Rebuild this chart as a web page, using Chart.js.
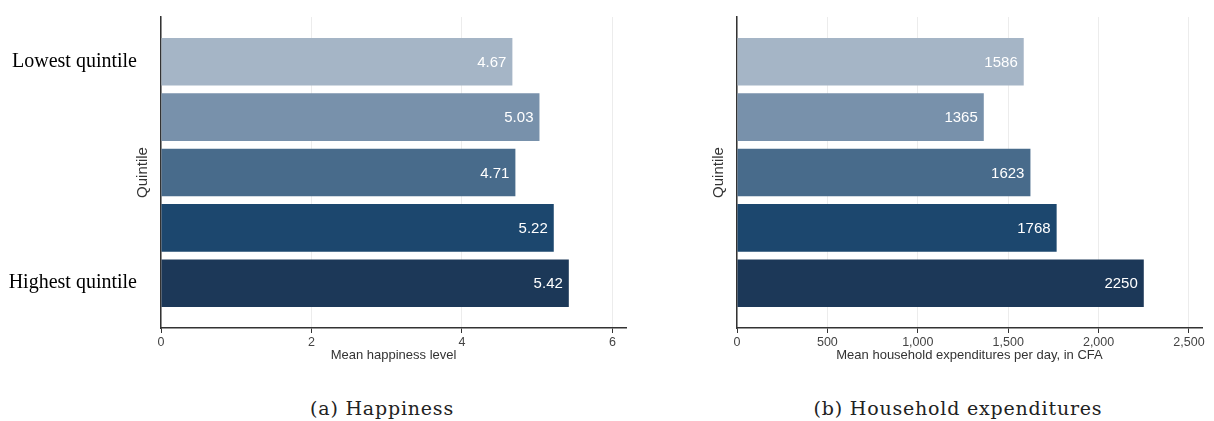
<!DOCTYPE html>
<html lang="en">
<head>
<meta charset="UTF-8">
<title>Quintiles: happiness and expenditures</title>
<script src="https://cdn.jsdelivr.net/npm/chart.js"></script>
<style>
  body { margin: 0; background: #fff; width: 1214px; height: 421px; overflow: hidden; position: relative; }
  canvas { position: absolute; top: 0; }
  #graficaFelicidad { left: 0; }
  #graficaGastos { left: 640px; }
  .leyenda {
    position: absolute; top: 397px;
    font-family: "DejaVu Serif", serif; font-size: 19px; line-height: 22px; letter-spacing: 0.8px;
    color: #222; white-space: nowrap; transform: translateX(-50%);
  }
</style>
</head>
<body>
<canvas id="graficaFelicidad" width="640" height="372"></canvas>
<canvas id="graficaGastos" width="574" height="372"></canvas>
<div class="leyenda" style="left:382px">(a) Happiness</div>
<div class="leyenda" style="left:958px">(b) Household expenditures</div>
<script>
//* datos de la figura
const quintiles = ["Lowest quintile", "", "", "", "Highest quintile"];
const felicidad = [4.67, 5.03, 4.71, 5.22, 5.42];
const gastos = [1586, 1365, 1623, 1768, 2250];
const ticksFelicidad = [0, 2, 4, 6];
const ticksGastos = [0, 500, 1000, 1500, 2000, 2500];
const coloresBarras = ["#a5b5c6", "#7891ab", "#486b8b", "#1c476e", "#1c3858"];

//* plugin para escribir el valor dentro de cada barra
const pluginValores = {
  id: "valores",
  afterDatasetsDraw(chart, args, opts) {
    const ctx = chart.ctx;
    const meta = chart.getDatasetMeta(0);
    ctx.save();
    ctx.fillStyle = "#ffffff";
    ctx.font = "15px 'Liberation Sans', Arial, sans-serif";
    ctx.textAlign = "right";
    ctx.textBaseline = "middle";
    meta.data.forEach((barra, i) => {
      ctx.fillText(opts.textos[i], barra.x - 6, barra.y + 1);
    });
    ctx.restore();
  },
};

//* plugin para el titulo vertical "Quintile"
const pluginQuintil = {
  id: "quintil",
  afterDraw(chart) {
    const ctx = chart.ctx;
    const area = chart.chartArea;
    ctx.save();
    ctx.translate(area.left - 18, (area.top + area.bottom) / 2);
    ctx.rotate(-Math.PI / 2);
    ctx.fillStyle = "#333";
    ctx.font = "15px 'Liberation Sans', Arial, sans-serif";
    ctx.textAlign = "center";
    ctx.textBaseline = "middle";
    ctx.fillText("Quintile", 0, 0);
    ctx.restore();
  },
};

//* Función para crear cada gráfica de barras horizontales
function crearGrafica(id, valores, textos, ticks, maximo, tituloX, anchoY, derecha, conEtiquetas) {
  const config = {
    type: "bar",
    data: {
      datasets: [
        {
          data: valores.map((v, i) => ({ x: v, y: i })),
          backgroundColor: coloresBarras,
          borderWidth: 0,
          barPercentage: 0.86,
          categoryPercentage: 1,
        },
      ],
    },
    options: {
      indexAxis: "y",
      responsive: false,
      animation: false,
      layout: { padding: { top: 17, right: derecha, left: 0, bottom: 0 } },
      plugins: {
        legend: { display: false },
        tooltip: { enabled: false },
        valores: { textos: textos },
      },
      scales: {
        x: {
          type: "linear",
          min: 0,
          max: maximo,
          afterBuildTicks: (eje) => {
            eje.ticks = ticks.map((v) => ({ value: v }));
          },
          afterFit: (eje) => {
            eje.height = 44;
            eje.paddingLeft = 0;
            eje.paddingRight = 0;
          },
          grid: { color: "#ececec", tickColor: "#333", tickLength: 5, lineWidth: 1 },
          border: { color: "#333", width: 1.5 },
          ticks: {
            color: "#444",
            font: { family: "'Liberation Sans', Arial", size: 12.5 },
            padding: 2,
            maxRotation: 0,
          },
          title: {
            display: true,
            text: tituloX,
            color: "#333",
            font: { family: "'Liberation Sans', Arial", size: 13 },
            padding: { top: 0, bottom: 9 },
          },
        },
        y: {
          type: "linear",
          reverse: true,
          offset: false,
          min: -0.81,
          max: 4.81,
          afterBuildTicks: (eje) => {
            eje.ticks = quintiles.map((q, i) => ({ value: i }));
          },
          afterFit: (eje) => {
            eje.width = anchoY;
            eje.paddingTop = 0;
            eje.paddingBottom = 0;
          },
          grid: { display: false, drawTicks: false },
          border: { color: "#333", width: 1.5 },
          ticks: {
            display: conEtiquetas,
            callback: (v) => quintiles[v],
            color: "#000",
            font: { family: "'Liberation Serif', 'Times New Roman', serif", size: 20 },
            padding: 24,
          },
        },
      },
    },
    plugins: [pluginValores, pluginQuintil],
  };
  return new Chart(document.getElementById(id), config);
}

crearGrafica(
  "graficaFelicidad",
  felicidad,
  felicidad.map((v) => v.toFixed(2)),
  ticksFelicidad,
  6.18,
  "Mean happiness level",
  161,
  14,
  true
);

crearGrafica(
  "graficaGastos",
  gastos,
  gastos.map((v) => String(v)),
  ticksGastos,
  2572,
  "Mean household expenditures per day, in CFA",
  97,
  12,
  false
);
</script>
</body>
</html>
